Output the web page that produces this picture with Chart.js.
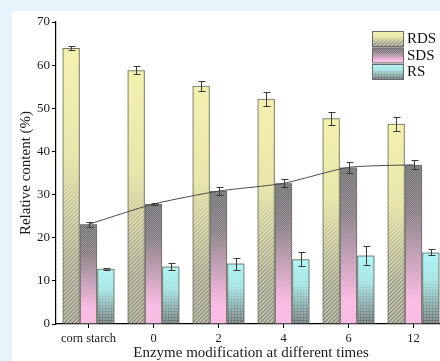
<!DOCTYPE html>
<html>
<head>
<meta charset="utf-8">
<script src="https://cdn.jsdelivr.net/npm/chart.js@4.4.0/dist/chart.umd.min.js"></script>
<style>
  html, body { margin: 0; padding: 0; width: 440px; height: 361px; overflow: hidden; background: #e7f3fa; }
  #panel { position: absolute; left: 12px; top: 11px; width: 434px; height: 350px; background: #ffffff; }
  canvas { display: block; }
</style>
</head>
<body>
<div id="panel"><canvas id="c" width="434" height="350"></canvas></div>
<script>
// Starch fractions (%) after enzyme modification for different times
const categories = ['corn starch', '0', '2', '4', '6', '12'];
const rdsValues = [64.0, 58.8, 55.2, 52.2, 47.7, 46.4];
const rdsErrors = [0.5, 0.9, 1.2, 1.6, 1.5, 1.6];
const sdsValues = [23.1, 27.8, 30.8, 32.6, 36.3, 36.9];
const sdsErrors = [0.6, 0.3, 0.9, 0.9, 1.3, 1.0];
const rsValues = [12.8, 13.3, 14.0, 15.0, 15.9, 16.6];
const rsErrors = [0.2, 0.8, 1.4, 1.6, 2.2, 0.7];
const yTicks = [0, 10, 20, 30, 40, 50, 60, 70];

const SERIF = '"Liberation Serif", "Times New Roman", serif';

// Small tiles used as texture for each series
function makeTile(kind) {
  const t = document.createElement('canvas');
  const ctx = t.getContext('2d');
  if (kind === 'RDS') {
    t.width = 4; t.height = 4;
    ctx.fillStyle = 'rgba(80,80,60,0.45)';
    for (let i = 0; i < 4; i++) ctx.fillRect(3 - i, i, 1, 1);
    ctx.fillStyle = 'rgba(255,255,235,0.25)';
    for (let i = 0; i < 4; i++) ctx.fillRect((5 - i) % 4, i, 1, 1);
  } else if (kind === 'SDS') {
    t.width = 2; t.height = 2;
    ctx.fillStyle = 'rgba(60,60,60,0.35)';
    ctx.fillRect(0, 0, 1, 1); ctx.fillRect(1, 1, 1, 1);
  } else {
    t.width = 3; t.height = 3;
    ctx.fillStyle = 'rgba(60,70,70,0.35)';
    ctx.fillRect(0, 0, 3, 1); ctx.fillRect(0, 0, 1, 3);
  }
  return t;
}

const looks = {
  RDS: { base: '#b0b0a0', tint: [250, 247, 178], stops: [[0, 0.92], [0.4, 0.78], [0.8, 0.12], [1, 0]] },
  SDS: { base: '#8e8e8e', tint: [249, 188, 226], stops: [[0, 0], [0.3, 0.15], [0.85, 1], [1, 1]] },
  RS:  { base: '#8e9494', tint: [182, 252, 252], stops: [[0, 0.95], [0.4, 0.8], [1, 0]] }
};
const tiles = {};

function paintBox(ctx, kind, left, top, w, h) {
  const look = looks[kind];
  if (!tiles[kind]) tiles[kind] = ctx.createPattern(makeTile(kind), 'repeat');
  ctx.save();
  ctx.beginPath();
  ctx.rect(left, top, w, h);
  ctx.clip();
  ctx.fillStyle = look.base;
  ctx.fillRect(left, top, w, h);
  ctx.fillStyle = tiles[kind];
  ctx.fillRect(left, top, w, h);
  const g = ctx.createLinearGradient(0, top, 0, top + h);
  const [r, gg, b] = look.tint;
  look.stops.forEach(([p, a]) => g.addColorStop(p, `rgba(${r},${gg},${b},${a})`));
  ctx.fillStyle = g;
  ctx.fillRect(left, top, w, h);
  ctx.restore();
}

const errorsByLabel = { RDS: rdsErrors, SDS: sdsErrors, RS: rsErrors };

// Fills each bar (gradient + texture) before the library strokes its outline
const barFill = {
  id: 'barFill',
  beforeDatasetDraw(chart, args) {
    const ds = chart.data.datasets[args.index];
    if (ds.type === 'line') return;
    const ctx = chart.ctx;
    args.meta.data.forEach(el => {
      const p = el.getProps(['x', 'y', 'base', 'width'], true);
      paintBox(ctx, ds.label, p.x - p.width / 2, Math.min(p.y, p.base), p.width, Math.abs(p.base - p.y));
    });
  }
};

// Standard-deviation whiskers
const errorBars = {
  id: 'errorBars',
  afterDatasetsDraw(chart) {
    const ctx = chart.ctx;
    const y = chart.scales.y;
    ctx.save();
    ctx.strokeStyle = '#3a3a3a';
    ctx.lineWidth = 1;
    chart.data.datasets.forEach((ds, i) => {
      const errs = errorsByLabel[ds.label];
      if (!errs || ds.type === 'line') return;
      chart.getDatasetMeta(i).data.forEach((el, j) => {
        const x = Math.round(el.x) + 0.5;
        const hi = Math.round(y.getPixelForValue(ds.data[j] + errs[j])) + 0.5;
        const lo = Math.round(y.getPixelForValue(ds.data[j] - errs[j])) + 0.5;
        ctx.beginPath();
        ctx.moveTo(x, hi); ctx.lineTo(x, lo);
        ctx.moveTo(x - 3, hi); ctx.lineTo(x + 4, hi);
        ctx.moveTo(x - 3, lo); ctx.lineTo(x + 4, lo);
        ctx.stroke();
      });
    });
    ctx.restore();
  }
};

// Legend boxes in the upper-right corner of the plot
const cornerLegend = {
  id: 'cornerLegend',
  afterDraw(chart) {
    const ctx = chart.ctx;
    const names = ['RDS', 'SDS', 'RS'];
    ctx.save();
    ctx.font = '15px ' + SERIF;
    ctx.textBaseline = 'middle';
    ctx.fillStyle = '#111';
    names.forEach((n, i) => {
      const bx = 360, by = 20 + i * 16.5, bw = 31, bh = 15;
      paintBox(ctx, n, bx, by, bw, bh);
      ctx.strokeStyle = '#6a6a6a';
      ctx.lineWidth = 1;
      ctx.strokeRect(bx + 0.5, by + 0.5, bw, bh);
      ctx.fillText(n, bx + 35, by + bh / 2 + 1);
    });
    ctx.restore();
  }
};

const barStyle = { backgroundColor: 'rgba(0,0,0,0)', borderColor: '#707068', borderWidth: 1, order: 1 };

new Chart(document.getElementById('c'), {
  type: 'bar',
  data: {
    labels: categories,
    datasets: [
      { type: 'line', label: 'SDS trend', data: sdsValues, borderColor: '#4a4a4a', borderWidth: 1,
        pointRadius: 0, tension: 0.2, fill: false, order: 0 },
      Object.assign({ label: 'RDS', data: rdsValues }, barStyle),
      Object.assign({ label: 'SDS', data: sdsValues }, barStyle),
      Object.assign({ label: 'RS', data: rsValues }, barStyle)
    ]
  },
  options: {
    responsive: false,
    devicePixelRatio: 1,
    animation: false,
    datasets: { bar: { categoryPercentage: 0.8, barPercentage: 1.0 } },
    layout: { padding: { top: 11, right: 0, left: 0, bottom: 0 } },
    plugins: { legend: { display: false }, tooltip: { enabled: false } },
    scales: {
      x: {
        grid: { display: true, drawOnChartArea: false, offset: false, tickLength: 4, color: '#000', tickWidth: 1 },
        border: { color: '#000', width: 1.2 },
        ticks: { color: '#1a1a1a', font: { family: SERIF, size: 12.5 }, padding: 3, maxRotation: 0, autoSkip: false },
        title: { display: true, text: 'Enzyme modification at different times', color: '#1a1a1a',
                 font: { family: SERIF, size: 15, lineHeight: 1 }, padding: { top: 0, bottom: 0 } },
        afterFit(s) { s.height = 37; }
      },
      y: {
        min: 0, max: 70,
        afterBuildTicks(s) { s.ticks = yTicks.map(v => ({ value: v })); },
        grid: { display: true, drawOnChartArea: false, tickLength: 4, color: '#000', tickWidth: 1 },
        border: { color: '#000', width: 1.2 },
        ticks: { color: '#1a1a1a', font: { family: SERIF, size: 13 }, padding: 2 },
        title: { display: true, text: 'Relative content (%)', color: '#1a1a1a',
                 font: { family: SERIF, size: 15, lineHeight: 1 }, padding: { top: 7, bottom: 0 } },
        afterFit(s) { s.width = 44; }
      }
    }
  },
  plugins: [barFill, errorBars, cornerLegend]
});
</script>
</body>
</html>
